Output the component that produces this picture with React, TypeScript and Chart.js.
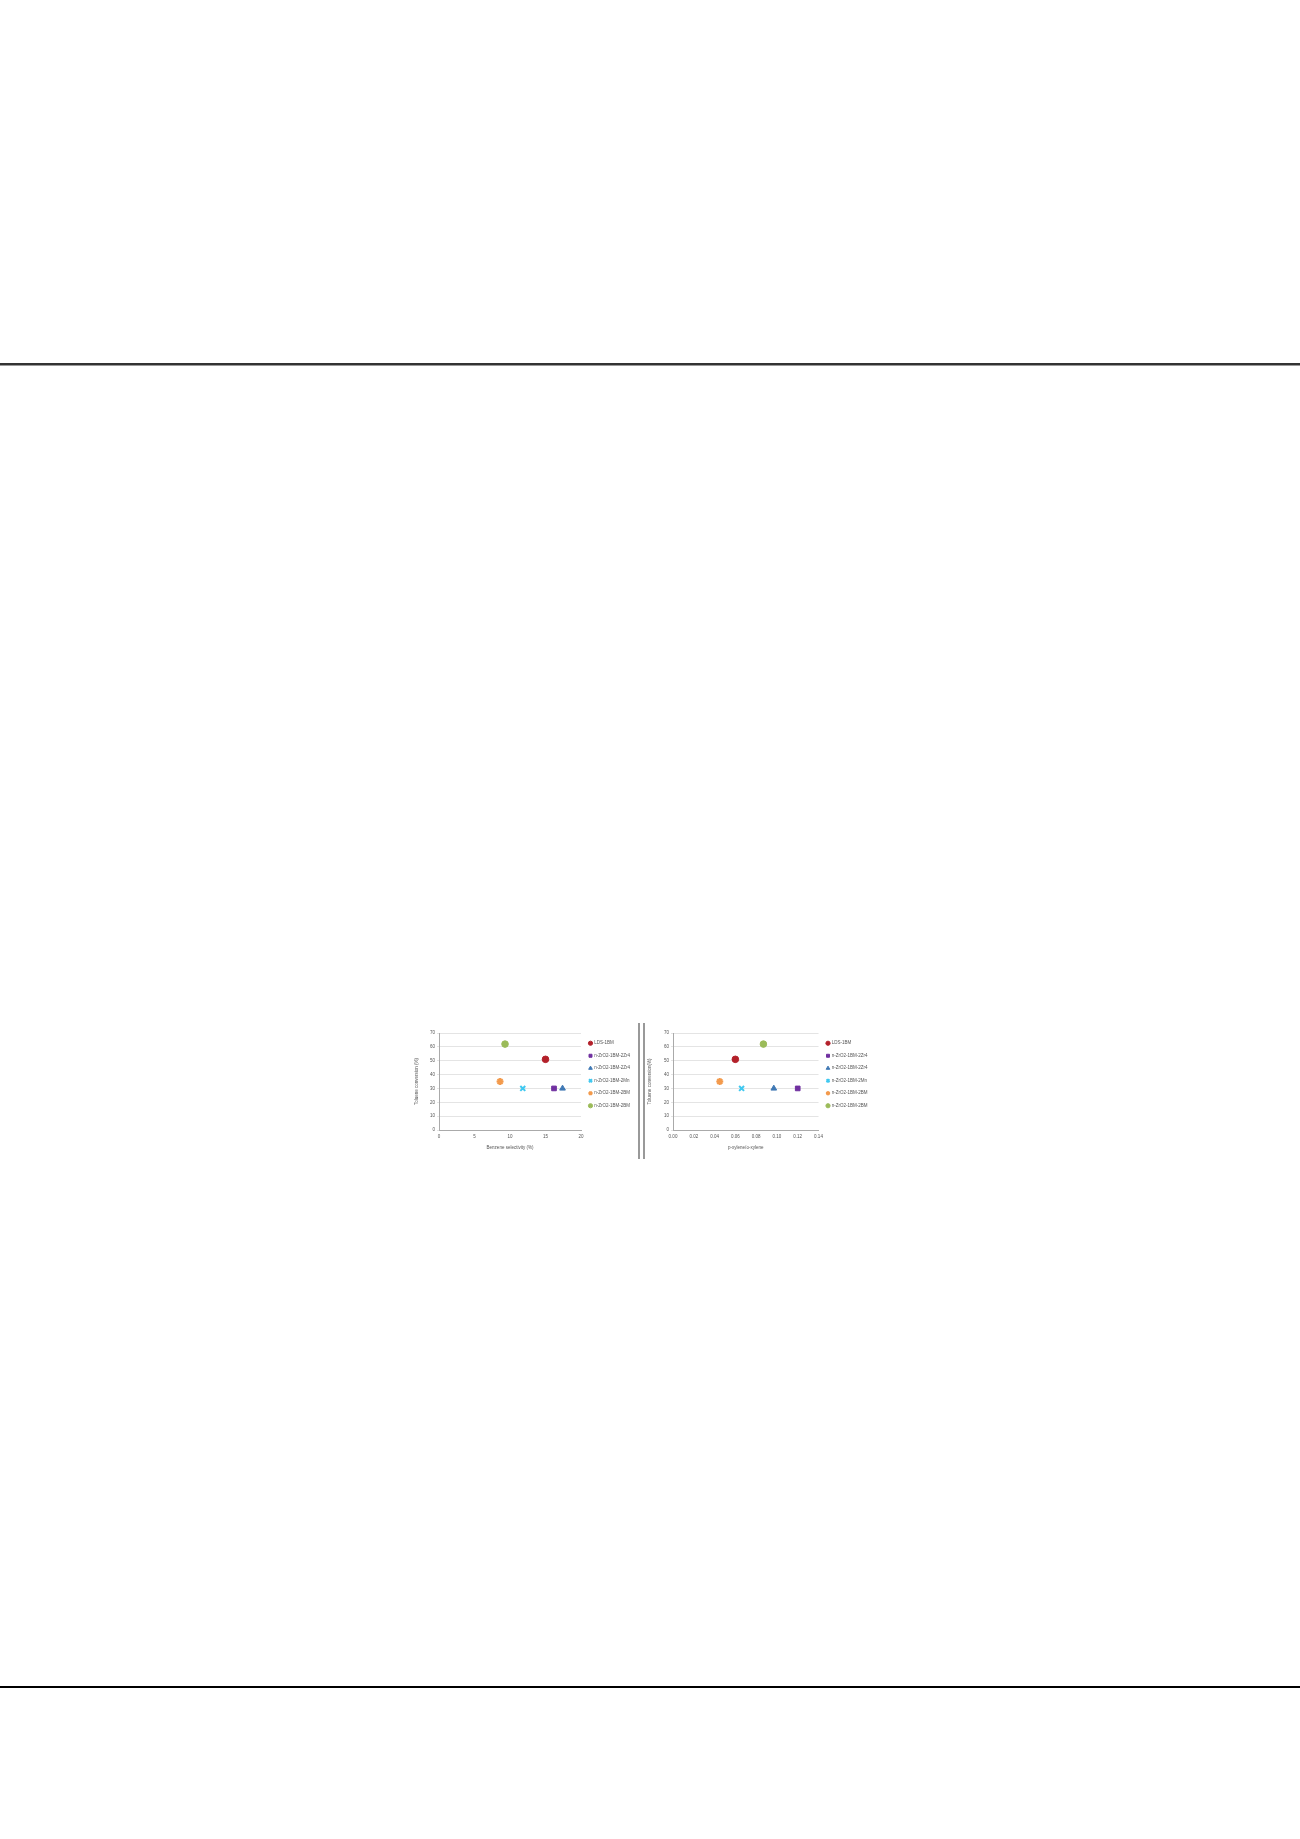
import { useEffect, useRef } from 'react';
import { Chart, registerables } from 'chart.js';

Chart.register(...registerables);

// series names (legend order), same for both panels
const seriesNames = [
  'LDS-1BM',
  'n-ZrO2-1BM-2Zr4',
  'n-ZrO2-1BM-2Zr4',
  'n-ZrO2-1BM-2Mn',
  'n-ZrO2-1BM-2BM',
  'n-ZrO2-1BM-2BM',
];
const seriesColors = ['#b3202a', '#7030a0', '#3f78b4', '#3fc8f0', '#f39a4c', '#9bbb59'];
const seriesMarkers = ['circle', 'rect', 'triangle', 'crossRot', 'star', 'circle'];

// left panel: x = benzene selectivity, y = toluene conversion
const leftX = [15.0, 16.2, 17.4, 11.8, 8.6, 9.3];
const leftY = [51, 30, 30, 30, 35, 62];
const leftXTicks = [0, 5, 10, 15, 20];

// right panel
const rightX = [0.06, 0.12, 0.097, 0.066, 0.045, 0.087];
const rightY = [51, 30, 30, 30, 35, 62];
const rightXTicks = [0, 0.02, 0.04, 0.06, 0.08, 0.1, 0.12, 0.14];

const yTicks = [0, 10, 20, 30, 40, 50, 60, 70];

const tiny = { size: 4.5, family: 'Arial, "Liberation Sans", sans-serif' };

function makeConfig(xs: number[], ys: number[], xTicks: number[], xTitle: string, yTitle: string, yW: number, dec: number): any {
  return {
    type: 'scatter',
    data: {
      datasets: seriesNames.map((name, i) => ({
        label: name,
        data: [{ x: xs[i], y: ys[i] }],
        pointStyle: seriesMarkers[i],
        pointRadius: seriesMarkers[i] === 'crossRot' || seriesMarkers[i] === 'star' ? 3.5 : 3.3,
        borderWidth: seriesMarkers[i] === 'crossRot' || seriesMarkers[i] === 'star' ? 2 : 1,
        backgroundColor: seriesColors[i],
        borderColor: seriesColors[i],
      })),
    },
    options: {
      animation: false,
      responsive: false,
      layout: { padding: { top: 10, right: 2, left: 0, bottom: 6 } },
      plugins: {
        legend: {
          position: 'right',
          align: 'start',
          labels: {
            usePointStyle: true,
            boxWidth: 3,
            boxHeight: 3,
            padding: 8,
            color: '#555',
            font: tiny,
          },
        },
        tooltip: { enabled: false },
      },
      scales: {
        x: {
          type: 'linear',
          min: xTicks[0],
          max: xTicks[xTicks.length - 1],
          afterBuildTicks: (s: any) => {
            s.ticks = xTicks.map((v) => ({ value: v }));
          },
          afterFit: (s: any) => {
            s.height = 21;
          },
          ticks: {
            color: '#555',
            font: tiny,
            padding: 2,
            maxRotation: 0,
            callback: (v: any) => Number(v).toFixed(dec),
          },
          grid: { display: false, drawTicks: true, tickLength: 2 },
          border: { color: '#aaa' },
          title: { display: true, text: xTitle, color: '#555', font: tiny, padding: 1 },
        },
        y: {
          min: 0,
          max: 70,
          afterBuildTicks: (s: any) => {
            s.ticks = yTicks.map((v) => ({ value: v }));
          },
          afterFit: (s: any) => {
            s.width = yW;
          },
          ticks: { color: '#555', font: tiny, padding: 2 },
          grid: { color: '#d9d9d9', lineWidth: 0.7, tickLength: 2 },
          border: { color: '#aaa' },
          title: { display: true, text: yTitle, color: '#555', font: tiny, padding: 1 },
        },
      },
    },
  };
}

const Panel = ({ cfg, left, width }: { cfg: any; left: number; width: number }) => {
  const ref = useRef<any>(null);
  useEffect(() => {
    if (ref?.current) {
      const chart = new Chart(ref.current.getContext('2d'), cfg);
      return () => {
        chart.destroy();
      };
    }
  }, []);
  return (
    <canvas
      ref={ref}
      width={width}
      height={134}
      style={{ position: 'absolute', left, top: 1023, width, height: 134 }}
    ></canvas>
  );
};

export default function App() {
  return (
    <div style={{ position: 'absolute', left: 0, top: 0, width: 1300, height: 1839, background: '#fff' }}>
      {/* header rule */}
      <div style={{ position: 'absolute', left: 0, top: 363, width: 1300, height: 2, background: '#333' }} />
      <div style={{ position: 'absolute', left: 0, top: 365, width: 1300, height: 1, background: '#999' }} />
      {/* footer rule */}
      <div style={{ position: 'absolute', left: 0, top: 1686, width: 1300, height: 2, background: '#000' }} />

      <Panel
        cfg={makeConfig(leftX, leftY, leftXTicks, 'Benzene selectivity (%)', 'Toluene conversion (%)', 26, 0)}
        left={413}
        width={226}
      />
      {/* separator between panels */}
      <div style={{ position: 'absolute', left: 638, top: 1023, width: 2, height: 136, background: '#999' }} />
      <div style={{ position: 'absolute', left: 643, top: 1023, width: 2, height: 136, background: '#999' }} />
      <Panel
        cfg={makeConfig(rightX, rightY, rightXTicks, 'p-xylene/o-xylene', 'Toluene conversion(%)', 27, 2)}
        left={646}
        width={232}
      />
    </div>
  );
}
